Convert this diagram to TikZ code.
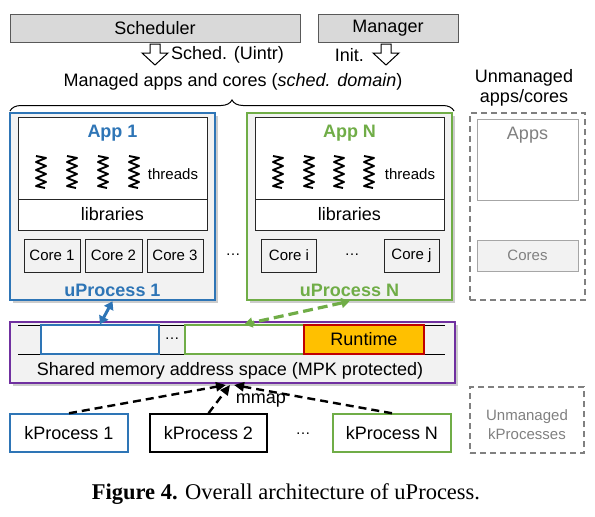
\documentclass[tikz,border=0pt]{standalone}
\usepackage{fontspec}
\setmainfont{Liberation Sans}
\newfontfamily\capfont{Liberation Serif}
\usetikzlibrary{shadows,decorations.pathreplacing,arrows.meta}
\definecolor{ublue}{HTML}{2E75B6}
\definecolor{ugreen}{HTML}{70AD47}
\definecolor{upurple}{HTML}{7030A0}
\definecolor{lgray}{HTML}{F2F2F2}
\definecolor{tgray}{HTML}{D9D9D9}
\definecolor{dgray}{HTML}{595959}
\definecolor{mgray}{HTML}{808080}
\definecolor{bgray}{HTML}{A6A6A6}
\definecolor{rtfill}{HTML}{FFC000}
\definecolor{rtred}{HTML}{C00000}
\tikzset{
  fs18/.style={font=\fontsize{18}{21}\selectfont},
  fs15/.style={font=\fontsize{15}{18}\selectfont},
  topbox/.style={draw=dgray, fill=tgray, line width=1pt, inner sep=0pt, minimum height=28pt},
  upbox/.style={line width=2.5pt, fill=lgray, inner sep=0pt, minimum width=205pt, minimum height=187pt,
     drop shadow={opacity=0.4, shadow xshift=2.5pt, shadow yshift=-2.5pt}},
  appbox/.style={draw=black!85, fill=white, line width=1pt, inner sep=0pt, minimum width=189pt},
  corebox/.style={draw=black!85, fill=lgray, line width=1pt, inner sep=0pt, minimum height=33pt, fs15},
  titletext/.style={font=\fontsize{18}{21}\selectfont\bfseries},
  spring/.style={line width=1.9pt, line join=round},
  grayframe/.style={draw=mgray, dash pattern=on 6pt off 4pt, line width=1.5pt, inner sep=0pt},
  memcell/.style={fill=white, line width=1.5pt, inner sep=0pt, minimum height=29pt},
  kbox/.style={fill=white, line width=1.5pt, inner sep=0pt, minimum height=38pt, fs18},
  hollow/.style={draw=black, fill=white, line width=1pt, line join=miter},
  mmaparrow/.style={line width=2.4pt, dash pattern=on 8pt off 5pt, -{Triangle[length=10pt,width=9pt]}},
}
\newcommand{\threadspring}[1]{%
  \draw[spring] (#1-5,156) -- (#1+5,158) -- (#1-5,162) -- (#1+5,166) -- (#1-5,170) -- (#1+5,174)
     -- (#1-5,178) -- (#1+5,182) -- (#1-5,186) -- (#1+4,188);}
\begin{document}
\begin{tikzpicture}[x=1pt,y=-1pt,fs18]
\useasboundingbox (0,0) rectangle (595,517);

% top boxes
\node[topbox, minimum width=290pt] (sched) at (155,28) {Scheduler};
\node[topbox, minimum width=140pt] (mgr) at (388,28) {Manager};
\draw[hollow] (150,44) -- (160,44) -- (160,53) -- (168,53) -- (155,65) -- (142,53) -- (150,53) -- cycle;
\node[anchor=west, inner sep=0pt] (schedlbl) at (171,55) {Sched. (Uintr)};
\draw[hollow] (381,44) -- (391,44) -- (391,53) -- (399,53) -- (386,65) -- (373,53) -- (381,53) -- cycle;
\node[anchor=east, inner sep=0pt] (initlbl) at (364,55) {Init.};

\node (dom) at (233,82) {Managed apps and cores (\textit{sched. domain})};
\draw[line width=1pt, decorate, decoration={brace, amplitude=11pt}] (10,111) -- (454,111);
\node[align=center, inner sep=0pt] (unm) at (524,88) {Unmanaged\\[-1pt]apps/cores};

% uProcess 1
\node[upbox, draw=ublue] (up1) at (112.5,206.5) {};
\node[appbox, minimum height=82pt] (app1) at (112.5,158) {};
\node[appbox, minimum height=31pt] (lib1) at (112.5,214.5) {libraries};
\node[titletext, text=ublue] (app1t) at (112.5,133) {App 1};
\foreach \x in {41,72,103,134} {\threadspring{\x}}
\node[fs15] (thr1) at (173,174) {threads};
\node[corebox, minimum width=56pt] (c1) at (52,255.5) {Core 1};
\node[corebox, minimum width=57pt] (c2) at (113.5,255.5) {Core 2};
\node[corebox, minimum width=56pt] (c3) at (175,255.5) {Core 3};
\node[titletext, text=ublue] (up1t) at (112.5,290) {uProcess 1};

\node (dots1) at (233,255) {\fontsize{15}{18}\selectfont\dots};

% uProcess N
\node[upbox, draw=ugreen] (upn) at (349.5,206.5) {};
\node[appbox, minimum height=82pt] (appn) at (349.5,158) {};
\node[appbox, minimum height=31pt] (libn) at (349.5,214.5) {libraries};
\node[titletext, text=ugreen] (appnt) at (349.5,133) {App N};
\foreach \x in {278,309,339,369} {\threadspring{\x}}
\node[fs15] (thrn) at (410,174) {threads};
\node[corebox, minimum width=55pt] (ci) at (289,255.5) {Core i};
\node[corebox, minimum width=55pt] (cj) at (411.5,255.5) {Core j};
\node (dots2) at (352,255) {\fontsize{15}{18}\selectfont\dots};
\node[titletext, text=ugreen] (upnt) at (349.5,290) {uProcess N};

% unmanaged apps/cores
\node[grayframe, minimum width=115pt, minimum height=187pt] (unmbox) at (527.5,206.5) {};
\node[draw=bgray, fill=white, line width=1pt, minimum width=101pt, minimum height=81pt, inner sep=0pt] (apps) at (527.5,159.5) {};
\node[text=mgray] (appst) at (527.5,135) {Apps};
\node[draw=bgray, fill=lgray, line width=1pt, minimum width=101pt, minimum height=31pt, inner sep=0pt, text=mgray, fs15] (cores) at (527.5,255.5) {Cores};

% shared memory
\node[draw=upurple, fill=lgray, line width=1.5pt, minimum width=445pt, minimum height=61pt, inner sep=0pt,
   drop shadow={opacity=0.4, shadow xshift=2.5pt, shadow yshift=-2.5pt}] (mem) at (232.5,352.5) {};
\draw[line width=1pt] (18,325) -- (445,325);
\draw[line width=1pt] (18,354) -- (445,354);
\node[memcell, draw=ublue, minimum width=118pt] (mem1) at (100,339.5) {};
\node (dots3) at (172,339) {\fontsize{15}{18}\selectfont\dots};
\node[memcell, draw=ugreen, minimum width=119pt] (memn) at (244.5,339.5) {};
\node[memcell, draw=rtred, fill=rtfill, minimum width=120pt] (rt) at (364,339.5) {Runtime};
\node (memt) at (230,371) {Shared memory address space (MPK protected)};

% uProcess <-> memory
\draw[ublue, line width=3pt, {Triangle[length=8pt,width=10pt]}-{Triangle[length=8pt,width=10pt]}] (up1.south) -- (mem1.north);
\draw[ugreen, line width=3.2pt, dash pattern=on 10pt off 5pt, {Triangle[length=8pt,width=10pt]}-{Triangle[length=8pt,width=10pt]}] (upn.south) -- (memn.north);

% kProcesses
\node[kbox, draw=ublue, minimum width=118pt] (kp1) at (69,433) {kProcess 1};
\node[kbox, draw=black, minimum width=117pt] (kp2) at (208.5,433) {kProcess 2};
\node (dots4) at (303,434) {\fontsize{15}{18}\selectfont\dots};
\node[kbox, draw=ugreen, minimum width=118pt] (kpn) at (392,433) {kProcess N};
\node[grayframe, minimum width=114pt, minimum height=66pt] (unmk) at (527,420) {};
\node[align=center, text=mgray, fs15, inner sep=0pt] (unmkt) at (527,425) {Unmanaged\\[1pt]kProcesses};

\coordinate (t1) at (226,385);
\coordinate (t2) at (230,385);
\coordinate (t3) at (234,385);
\draw[mmaparrow] (kp1.north) -- (t1);
\draw[mmaparrow] (kp2.north) -- (t2);
\draw[mmaparrow] (kpn.north) -- (t3);
\node (mmap) at (261,401) {mmap};

% caption
\node (cap) at (286,494) {\capfont\fontsize{22.5}{26}\selectfont\textbf{Figure 4.} Overall architecture of uProcess.};
\end{tikzpicture}
\end{document}
